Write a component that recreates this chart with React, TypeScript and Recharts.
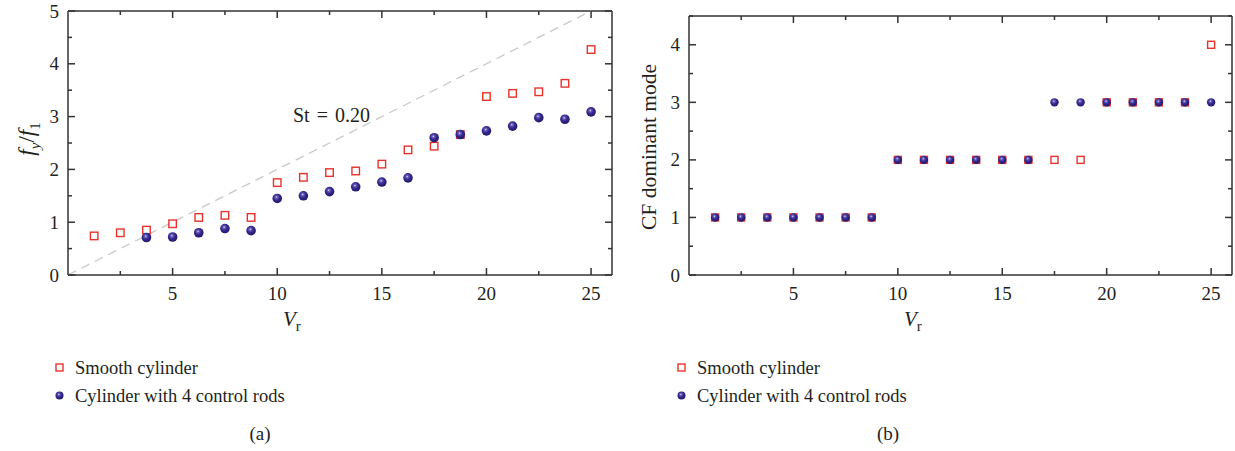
import React from 'react';
import { ScatterChart, Scatter, XAxis, YAxis, ReferenceLine } from 'recharts';

// ---------- data ----------
const vrSmoothA = [1.25, 2.5, 3.75, 5, 6.25, 7.5, 8.75, 10, 11.25, 12.5, 13.75, 15, 16.25, 17.5, 18.75, 20, 21.25, 22.5, 23.75, 25];
const freqSmooth = [0.74, 0.8, 0.85, 0.97, 1.09, 1.13, 1.09, 1.75, 1.85, 1.94, 1.97, 2.1, 2.37, 2.44, 2.66, 3.38, 3.44, 3.47, 3.63, 4.27];
const vrRodsA = [3.75, 5, 6.25, 7.5, 8.75, 10, 11.25, 12.5, 13.75, 15, 16.25, 17.5, 18.75, 20, 21.25, 22.5, 23.75, 25];
const freqRods = [0.71, 0.72, 0.8, 0.88, 0.84, 1.45, 1.5, 1.58, 1.67, 1.76, 1.84, 2.6, 2.66, 2.73, 2.82, 2.98, 2.95, 3.09];

const vrB = [1.25, 2.5, 3.75, 5, 6.25, 7.5, 8.75, 10, 11.25, 12.5, 13.75, 15, 16.25, 17.5, 18.75, 20, 21.25, 22.5, 23.75, 25];
const modeSmooth = [1, 1, 1, 1, 1, 1, 1, 2, 2, 2, 2, 2, 2, 2, 2, 3, 3, 3, 3, 4];
const modeRods = [1, 1, 1, 1, 1, 1, 1, 2, 2, 2, 2, 2, 2, 3, 3, 3, 3, 3, 3, 3];

const stLine = [{ x: 0, y: 0 }, { x: 25, y: 5 }];
const stLabel = 'St = 0.20';
const seriesNames = ['Smooth cylinder', 'Cylinder with 4 control rods'];

const xTicks = [2.5, 5, 7.5, 10, 12.5, 15, 17.5, 20, 22.5, 25];
const yTicksA = [0, 0.5, 1, 1.5, 2, 2.5, 3, 3.5, 4, 4.5, 5];
const yTicksB = [0, 0.5, 1, 1.5, 2, 2.5, 3, 3.5, 4, 4.5];

const smoothA = vrSmoothA.map((x, i) => ({ x, y: freqSmooth[i] }));
const rodsA = vrRodsA.map((x, i) => ({ x, y: freqRods[i] }));
const smoothB = vrB.map((x, i) => ({ x, y: modeSmooth[i] }));
const rodsB = vrB.map((x, i) => ({ x, y: modeRods[i] }));

// ---------- styles ----------
const FONT = '"Liberation Serif", "DejaVu Serif", serif';
const TEXT = '#231f20';
const AXIS = '#333333';
const RED = '#e8322b';

const isMajorX = (v: number) => Math.abs(v % 5) < 1e-9;
const isMajorY = (v: number) => Math.abs(v - Math.round(v)) < 1e-9;

const makeBottomTick = (plotH: number) => (p: any) => {
  const v = p.payload.value;
  const len = isMajorX(v) ? 7 : 4;
  const top = p.y - plotH;
  return (
    <g>
      <line x1={p.x} y1={p.y} x2={p.x} y2={p.y - len} stroke={AXIS} strokeWidth={1.5} />
      <line x1={p.x} y1={top} x2={p.x} y2={top + len} stroke={AXIS} strokeWidth={1.5} />
      {isMajorX(v) && (
        <text x={p.x} y={p.y + 25} textAnchor="middle" fontFamily={FONT} fontSize={19} fill={TEXT}>{v}</text>
      )}
    </g>
  );
};
const makeLeftTick = (plotW: number) => (p: any) => {
  const v = p.payload.value;
  const len = isMajorY(v) ? 7 : 4;
  const right = p.x + plotW;
  return (
    <g>
      <line x1={p.x} y1={p.y} x2={p.x + len} y2={p.y} stroke={AXIS} strokeWidth={1.5} />
      <line x1={right} y1={p.y} x2={right - len} y2={p.y} stroke={AXIS} strokeWidth={1.5} />
      {isMajorY(v) && (
        <text x={p.x - 9} y={p.y + 6.5} textAnchor="end" fontFamily={FONT} fontSize={19} fill={TEXT}>{v}</text>
      )}
    </g>
  );
};

const makeSquare = (s: number) => (p: any) => (
  <rect x={p.cx - s / 2} y={p.cy - s / 2} width={s} height={s} fill="#ffffff" stroke={RED} strokeWidth={1.4} />
);
const makeBall = (r: number) => (p: any) => (
  <circle cx={p.cx} cy={p.cy} r={r} fill="url(#ballGrad)" />
);

const VrLabel = (p: any) => {
  const vb = p.viewBox;
  return (
    <text x={vb.x + 215} y={vb.y + 51} fontFamily={FONT} fontSize={21} fill={TEXT}>
      <tspan fontStyle="italic">V</tspan>
      <tspan fontSize={15} dy={5}>r</tspan>
    </text>
  );
};

const LegendBox = ({ left }: { left: number }) => (
  <div style={{ position: 'absolute', left, top: 354, fontFamily: FONT, fontSize: 18.5, color: TEXT, lineHeight: '28px', whiteSpace: 'nowrap' }}>
    <div style={{ display: 'flex', alignItems: 'center' }}>
      <svg width={16} height={16} style={{ marginRight: 7 }}>
        <rect x={4} y={4} width={7} height={7} fill="#fff" stroke={RED} strokeWidth={1.4} />
      </svg>
      <span>{seriesNames[0]}</span>
    </div>
    <div style={{ display: 'flex', alignItems: 'center' }}>
      <svg width={16} height={16} style={{ marginRight: 7 }}>
        <circle cx={7.5} cy={7.5} r={4} fill="url(#ballGrad)" />
      </svg>
      <span>{seriesNames[1]}</span>
    </div>
  </div>
);

export default function App() {
  return (
    <div style={{ position: 'absolute', left: 0, top: 0, width: 1235, height: 451, background: '#fff' }}>
      <svg width={1} height={1} style={{ position: 'absolute', left: 0, top: 0 }}>
        <defs>
          <radialGradient id="ballGrad" cx="0.42" cy="0.38" r="0.65" fx="0.42" fy="0.36">
            <stop offset="0" stopColor="#e8e6f5" />
            <stop offset="0.18" stopColor="#6a60b8" />
            <stop offset="0.5" stopColor="#35298f" />
            <stop offset="1" stopColor="#1f1566" />
          </radialGradient>
        </defs>
      </svg>

      {/* Chart (a): plot area 544 x 264 */}
      <div style={{ position: 'absolute', left: 0, top: 0, width: 620, height: 451 }}>
        <ScatterChart width={620} height={451} margin={{ top: 11, right: 8, left: 28, bottom: 146 }}>
          <XAxis dataKey="x" type="number" domain={[0, 26]} allowDataOverflow ticks={xTicks} interval={0}
            tickSize={0} tickMargin={0} tick={makeBottomTick(264)} stroke={AXIS} strokeWidth={1.5} height={30}
            label={<VrLabel />} />
          <YAxis dataKey="y" type="number" domain={[0, 5]} allowDataOverflow ticks={yTicksA} interval={0}
            tickSize={0} tickMargin={0} tick={makeLeftTick(544)} stroke={AXIS} strokeWidth={1.5} width={40} />
          <ReferenceLine y={5} stroke={AXIS} strokeWidth={1.5} ifOverflow="visible" />
          <ReferenceLine x={26} stroke={AXIS} strokeWidth={1.5} ifOverflow="visible" />
          <ReferenceLine segment={stLine} stroke="#c9c9c9" strokeWidth={1.3} strokeDasharray="9 6" ifOverflow="visible" />
          <Scatter name={seriesNames[0]} data={smoothA} shape={makeSquare(7.5)} isAnimationActive={false} />
          <Scatter name={seriesNames[1]} data={rodsA} shape={makeBall(4.8)} isAnimationActive={false} />
        </ScatterChart>
        <div style={{ position: 'absolute', left: 293, top: 104, fontFamily: FONT, fontSize: 20, color: TEXT, wordSpacing: 2, whiteSpace: 'nowrap' }}>{stLabel}</div>
        <div style={{ position: 'absolute', left: 29, top: 139, height: 0 }}>
          <div style={{ position: 'absolute', left: 0, top: 0, transform: 'translate(-50%, -50%) rotate(-90deg)', whiteSpace: 'nowrap', fontFamily: FONT, fontSize: 23, color: TEXT }}>
            <i>f</i><sub style={{ fontSize: 15 }}><i>y</i></sub>/<i>f</i><sub style={{ fontSize: 15 }}>1</sub>
          </div>
        </div>
        <LegendBox left={52} />
        <div style={{ position: 'absolute', left: 240, top: 423, width: 40, textAlign: 'center', fontFamily: FONT, fontSize: 19, color: TEXT }}>(a)</div>
      </div>

      {/* Chart (b): plot area 543 x 259 */}
      <div style={{ position: 'absolute', left: 620, top: 0, width: 615, height: 451 }}>
        <ScatterChart width={615} height={451} margin={{ top: 16, right: 3, left: 29, bottom: 146 }}>
          <XAxis dataKey="x" type="number" domain={[0, 26]} allowDataOverflow ticks={xTicks} interval={0}
            tickSize={0} tickMargin={0} tick={makeBottomTick(259)} stroke={AXIS} strokeWidth={1.5} height={30}
            label={<VrLabel />} />
          <YAxis dataKey="y" type="number" domain={[0, 4.5]} allowDataOverflow ticks={yTicksB} interval={0}
            tickSize={0} tickMargin={0} tick={makeLeftTick(543)} stroke={AXIS} strokeWidth={1.5} width={40} />
          <ReferenceLine y={4.5} stroke={AXIS} strokeWidth={1.5} ifOverflow="visible" />
          <ReferenceLine x={26} stroke={AXIS} strokeWidth={1.5} ifOverflow="visible" />
          <Scatter name={seriesNames[0]} data={smoothB} shape={makeSquare(7)} isAnimationActive={false} />
          <Scatter name={seriesNames[1]} data={rodsB} shape={makeBall(4.2)} isAnimationActive={false} />
        </ScatterChart>
        <div style={{ position: 'absolute', left: 29, top: 147, height: 0 }}>
          <div style={{ position: 'absolute', left: 0, top: 0, transform: 'translate(-50%, -50%) rotate(-90deg)', whiteSpace: 'nowrap', fontFamily: FONT, fontSize: 21.5, color: TEXT }}>
            CF dominant mode
          </div>
        </div>
        <LegendBox left={54} />
        <div style={{ position: 'absolute', left: 248, top: 423, width: 40, textAlign: 'center', fontFamily: FONT, fontSize: 19, color: TEXT }}>(b)</div>
      </div>
    </div>
  );
}
